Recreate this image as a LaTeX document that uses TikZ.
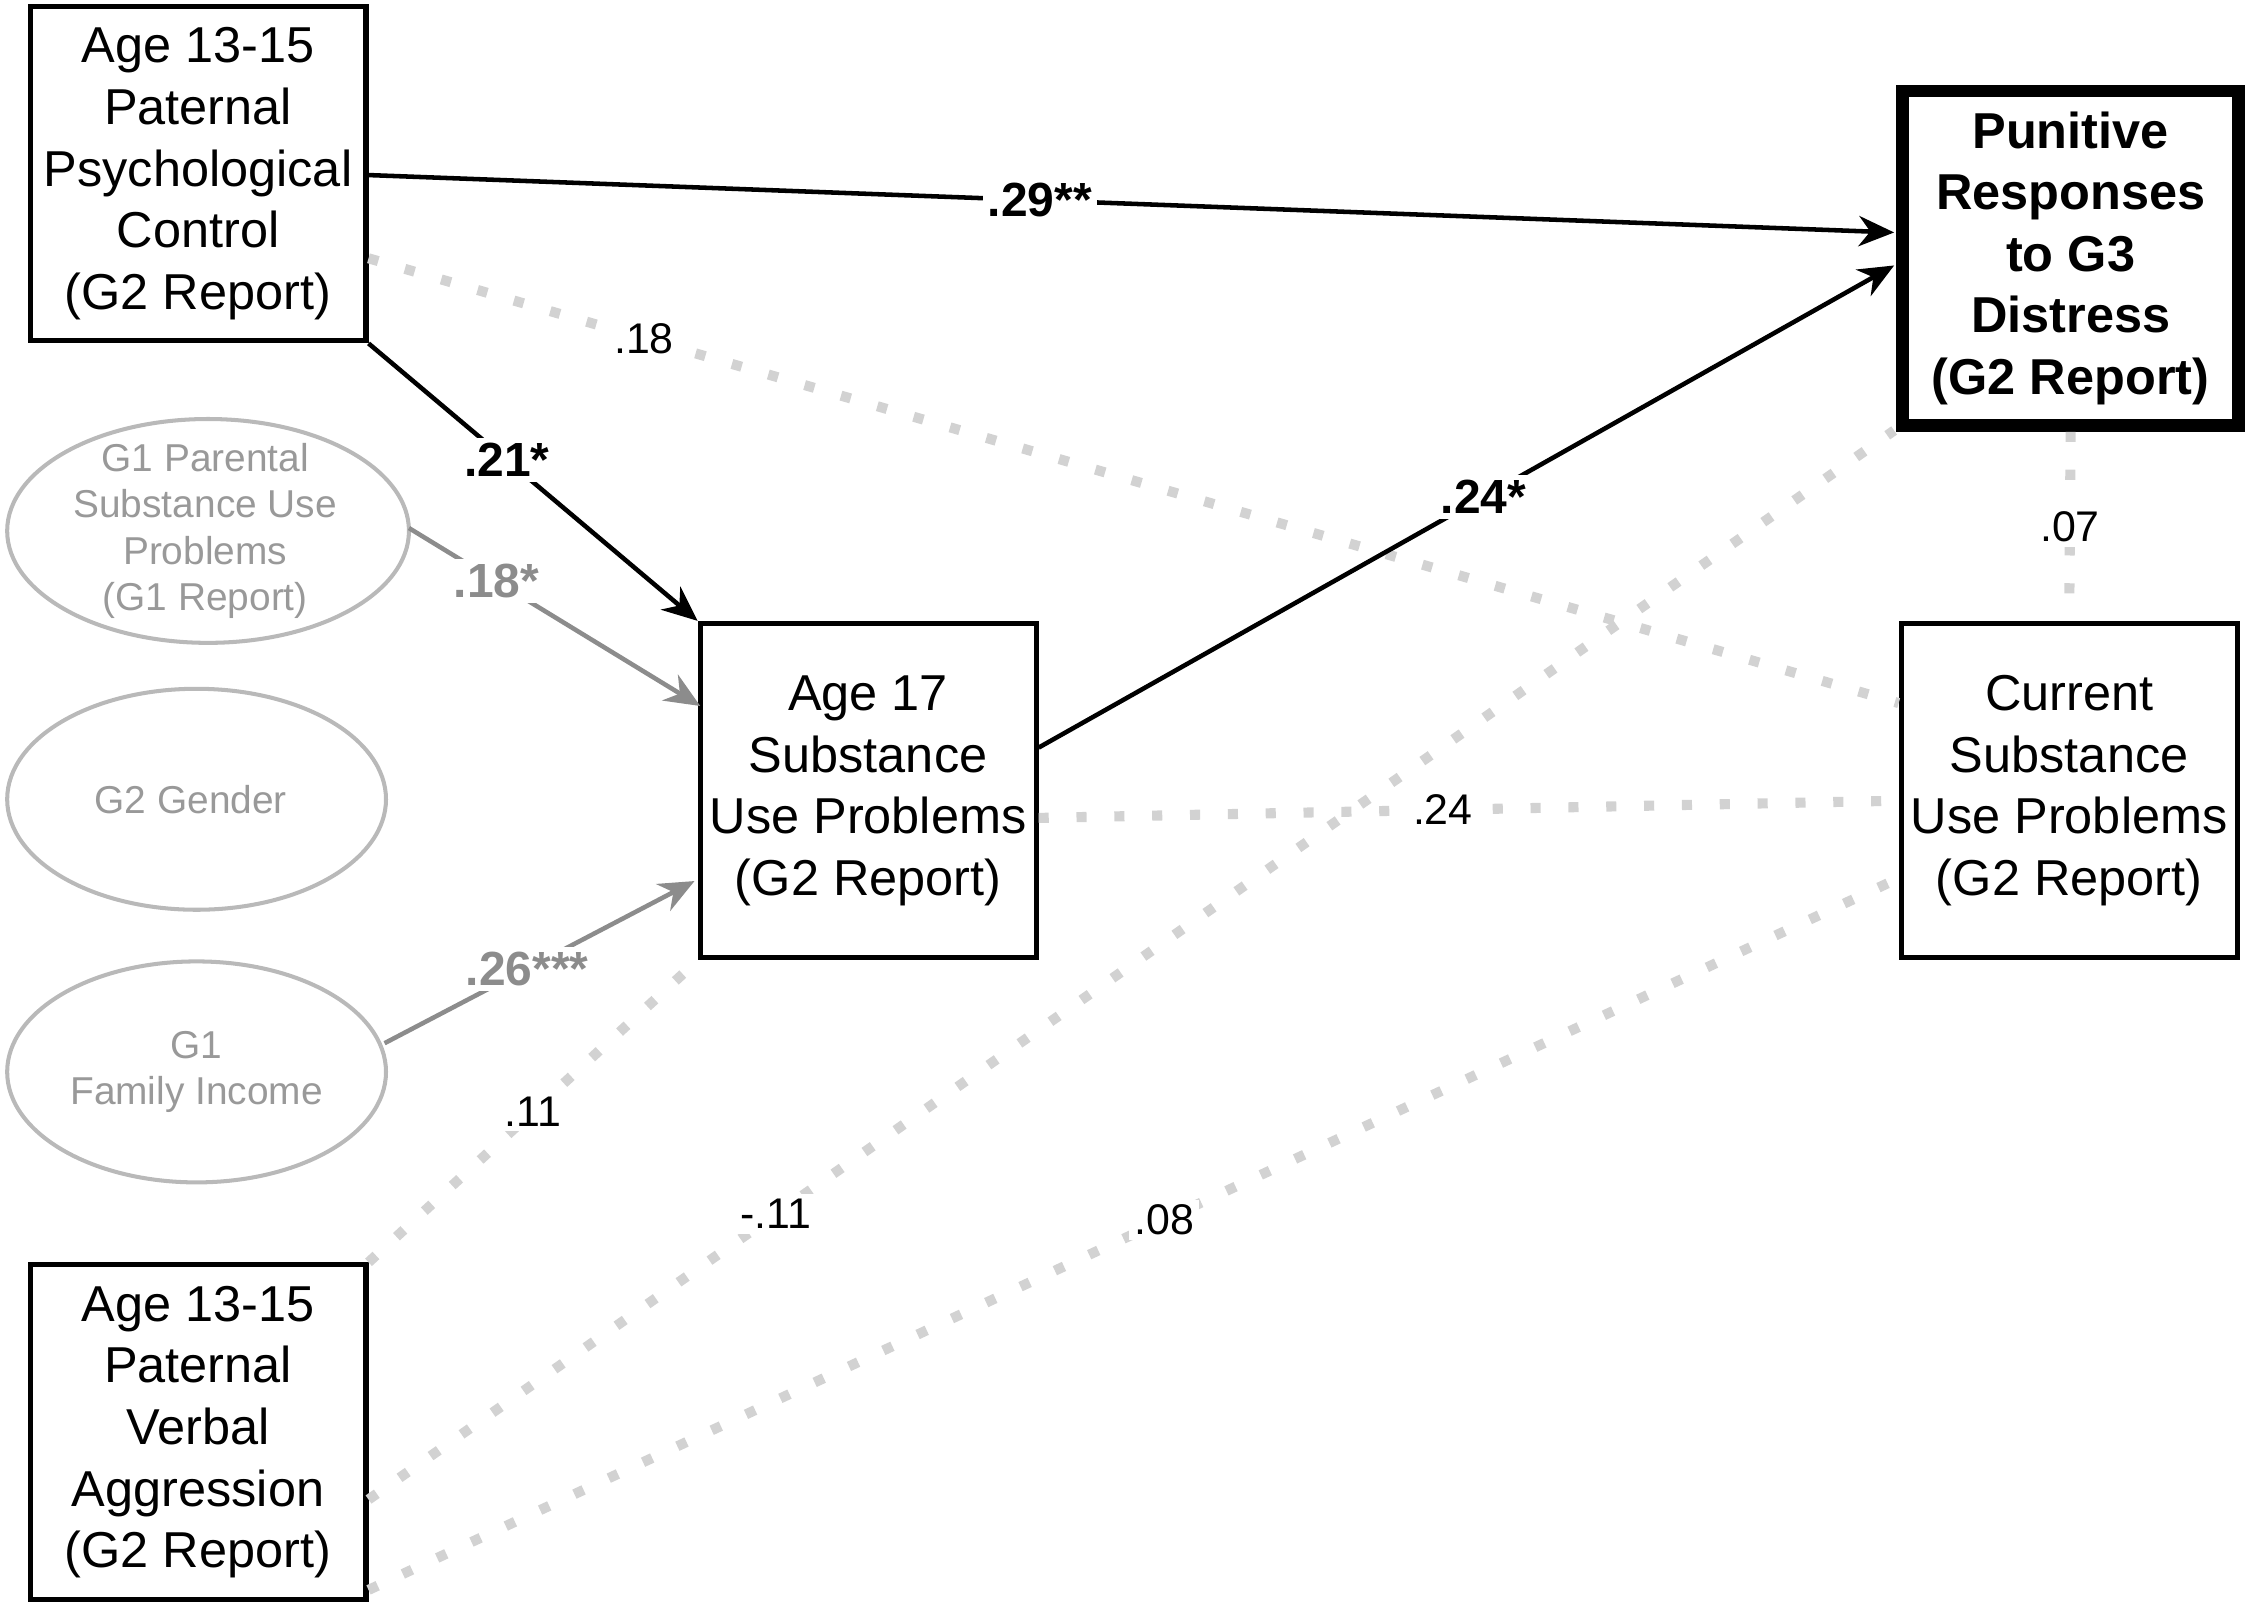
\documentclass[tikz,border=0pt]{standalone}
\usepackage{fontspec}
\setmainfont{Liberation Sans}
\usetikzlibrary{arrows.meta}
\begin{document}
\begin{tikzpicture}[x=0.01cm,y=-0.01cm,
 box/.style={draw,line width=1pt,minimum width=2.34cm,minimum height=2.33cm,align=center,font=\fontsize{10}{12.2}\selectfont,inner sep=0pt},
 ell/.style={draw=gray!55,ellipse,line width=0.8pt,align=center,text=gray!80,font=\fontsize{7.7}{9.2}\selectfont,inner sep=0pt},
 arr/.style={line width=0.9pt,-{Stealth[length=7pt,width=6pt]}},
 garr/.style={arr,draw=gray!90},
 dot/.style={draw=gray!35,line width=2pt,dash pattern=on 2pt off 5.5pt},
 lab/.style={fill=white,inner sep=1pt,font=\fontsize{8.5}{10}\selectfont},
 blab/.style={lab,font=\fontsize{9.5}{11}\selectfont\bfseries},
]
\useasboundingbox (0,0) rectangle (1568,1121);
\node[box] (ppc) at (138,121) {Age 13-15\\Paternal\\Psychological\\Control\\(G2 Report)};
\node[box,line width=2.5pt,font=\fontsize{10}{12.2}\selectfont\bfseries] (pun) at (1443,180) {Punitive\\Responses\\to G3\\Distress\\(G2 Report)};
\node[box] (a17) at (605,551) {Age 17\\Substance\\Use Problems\\(G2 Report)};
\node[box] (cur) at (1442,551) {Current\\Substance\\Use Problems\\(G2 Report)};
\node[box] (va) at (138,998) {Age 13-15\\Paternal\\Verbal\\Aggression\\(G2 Report)};
\draw[draw=gray!55,line width=0.8pt] (145,370) ellipse [x radius=140,y radius=78];
\node[align=center,text=gray!80,font=\fontsize{7.7}{9.2}\selectfont] (g1p) at (143,370) {G1 Parental\\Substance Use\\Problems\\(G1 Report)};
\draw[draw=gray!55,line width=0.8pt] (137,557) ellipse [x radius=132,y radius=77];
\node[text=gray!80,font=\fontsize{7.7}{9.2}\selectfont] (gen) at (133,557) {G2 Gender};
\draw[draw=gray!55,line width=0.8pt] (137,747) ellipse [x radius=132,y radius=77];
\node[align=center,text=gray!80,font=\fontsize{7.7}{9.2}\selectfont] (inc) at (137,747) {G1\\Family Income};
\coordinate (g1pe) at (285,368);
\coordinate (ince) at (268,727);
% dotted
\draw[dot] (ppc.east |- 0,180) -- (cur.west |- 0,490) node[lab,pos=0.18] {.18};
\draw[dot] (a17.east |- 0,570) -- (cur.west |- 0,558) node[lab,pos=0.47] {.24};
\draw[dot] (pun.south) -- (cur.north) node[lab,midway] {.07};
\draw[dot] (va.north east) -- (a17.south west) node[lab,midway] {.11};
\draw[dot] (va.east |- 0,1045) -- (1320,300) node[lab,pos=0.267] {-.11};
\draw[dot] (va.east |- 0,1108) -- (cur.west |- 0,612) node[lab,pos=0.52] {.08};
% solid
\draw[arr] (ppc.east |- 0,122) -- (1320,162) node[blab,pos=0.44] {.29**};
\draw[arr] (ppc.south east) -- (a17.north west) node[blab,pos=0.42] {.21*};
\draw[arr] (a17.east |- 0,521) -- (1320,185) node[blab,pos=0.52] {.24*};
\draw[garr] (g1pe) -- (488,492) node[blab,text=gray!90,pos=0.3] {.18*};
\draw[garr] (ince) -- (484,614) node[blab,text=gray!90,pos=0.46] {.26***};
\end{tikzpicture}
\end{document}
